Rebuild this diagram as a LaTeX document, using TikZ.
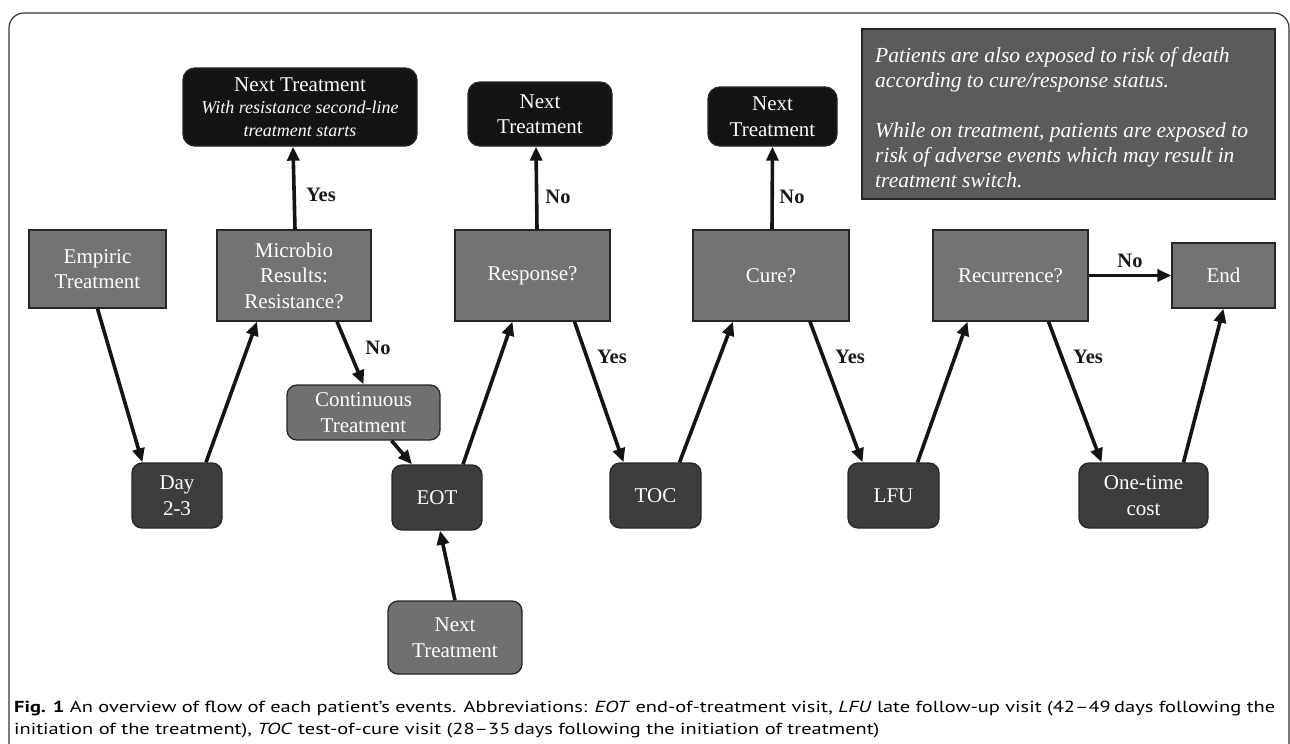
\documentclass[tikz,border=0pt]{standalone}
\usepackage{fontspec}
\usepackage{graphicx}
\setmainfont{Liberation Serif}
\newfontfamily\capfont{PT Sans}
\usetikzlibrary{arrows.meta,calc}
\definecolor{boxgray}{HTML}{737373}
\definecolor{softgray}{HTML}{707070}
\definecolor{darkbox}{HTML}{3D3D3D}
\definecolor{blackbox}{HTML}{141414}
\definecolor{infogray}{HTML}{5B5B5B}
\definecolor{captext}{HTML}{231F20}
\newsavebox\capboxA
\newsavebox\capboxB
\newdimen\capwidA
\AtBeginDocument{%
\sbox\capboxA{\capfont\fontsize{16}{19}\selectfont\textbf{Fig. 1} An overview of flow of each patient’s events. Abbreviations: \textit{EOT} end-of-treatment visit, \textit{LFU} late follow-up visit (42–49\,days following the}%
\sbox\capboxB{\capfont\fontsize{16}{19}\selectfont initiation of the treatment), \textit{TOC} test-of-cure visit (28–35\,days following the initiation of treatment)}%
\global\capwidA=\wd\capboxA
\pgfmathsetmacro\capscale{1261/\capwidA}%
\global\let\capscale\capscale
}
\begin{document}
\begin{tikzpicture}[x=1pt,y=-1pt,
  base/.style={draw=black!85, line width=1.3pt, text=white, inner sep=0pt, align=center,
    font=\fontsize{21}{25.5}\selectfont},
  sqbox/.style={base, fill=boxgray},
  softbox/.style={base, fill=softgray, rounded corners=10pt},
  darkstep/.style={base, fill=darkbox, rounded corners=10pt},
  blackstep/.style={base, fill=blackbox, rounded corners=12pt},
  conn/.style={line width=3.6pt, -{Triangle[length=14pt,width=12pt]}, black!92},
  lbl/.style={font=\fontsize{20.5}{22}\selectfont\bfseries, inner sep=0pt, text=black!90}
]
\useasboundingbox (0,0) rectangle (1290,744);
% outer frame
\draw[line width=1.2pt, black!80] (9,744) -- (9,28) arc[start angle=180,end angle=90,radius=15pt] -- (1274,13) arc[start angle=90,end angle=0,radius=15pt] -- (1289,744);

% boxes
\node[blackstep, minimum width=234pt, minimum height=78pt] (nt1) at (300,107)
  {Next Treatment\\[-3pt]{\fontsize{18}{22}\selectfont\itshape With resistance second-line}\\[-3pt]{\fontsize{18}{22}\selectfont\itshape treatment starts}};
\node[sqbox, minimum width=137pt, minimum height=78pt] (emp) at (97.5,269) {Empiric\\Treatment};
\node[sqbox, minimum width=154pt, minimum height=91pt] (mic) at (294,275.5) {Microbio\\Results:\\Resistance?};
\node[sqbox, minimum width=155pt, minimum height=91pt] (resp) at (532.5,275.5) {Response?};
\node[blackstep, minimum width=144pt, minimum height=64pt] (nt2) at (540,114) {Next\\Treatment};
\node[sqbox, minimum width=156pt, minimum height=91pt] (cure) at (771,275.5) {Cure?};
\node[blackstep, minimum width=129pt, minimum height=59pt] (nt3) at (772.5,116.5) {Next\\Treatment};
\node[sqbox, minimum width=155pt, minimum height=91pt] (rec) at (1010.5,275.5) {Recurrence?};
\node[sqbox, minimum width=103pt, minimum height=65pt] (end) at (1223.5,275.5) {End};
\node[softbox, minimum width=153pt, minimum height=55pt] (cont) at (363.5,412.5) {Continuous\\Treatment};
\node[darkstep, minimum width=90pt, minimum height=65pt] (day) at (177,495.5) {Day\\2-3};
\node[darkstep, minimum width=90pt, minimum height=65pt] (eot) at (437,497.5) {EOT};
\node[darkstep, minimum width=91pt, minimum height=65pt] (toc) at (655.5,495.5) {TOC};
\node[darkstep, minimum width=91pt, minimum height=65pt] (lfu) at (893.5,495.5) {LFU};
\node[darkstep, minimum width=129pt, minimum height=65pt] (one) at (1143.5,495.5) {One-time\\cost};
\node[softbox, minimum width=134pt, minimum height=73pt] (nt4) at (455,637.5) {Next\\Treatment};

% info box
\node[base, fill=infogray, minimum width=413pt, minimum height=170pt] (info) at (1068.5,114) {};
\node[anchor=west, inner sep=0pt, text=white, align=left, font=\fontsize{21.5}{25}\selectfont\itshape] (infotext) at (875,118)
  {Patients are also exposed to risk of death\\according to cure/response status.\\[25pt]While on treatment, patients are exposed to\\risk of adverse events which may result in\\treatment switch.};

% connectors
\draw[conn] (emp.south) -- ([xshift=11pt]day.north west);
\draw[conn] ([xshift=29pt]day.north) -- ([xshift=-37pt]mic.south);
\draw[conn] ([xshift=43pt]mic.south) -- (cont.north);
\draw[conn] ([xshift=28pt]cont.south) -- ([xshift=-25pt]eot.north);
\draw[conn] ([xshift=26pt]eot.north) -- ([xshift=-20pt]resp.south);
\draw[conn] ([xshift=42pt]resp.south) -- ([xshift=-32pt]toc.north);
\draw[conn] ([xshift=24pt]toc.north) -- ([xshift=-38pt]cure.south);
\draw[conn] ([xshift=39pt]cure.south) -- ([xshift=-31pt]lfu.north);
\draw[conn] ([xshift=24pt]lfu.north) -- ([xshift=-43pt]rec.south);
\draw[conn] ([xshift=38pt]rec.south) -- ([xshift=-42pt]one.north);
\draw[conn] ([xshift=40pt]one.north) -- (end.south);
\draw[conn] (rec.east) -- (end.west);
\draw[conn] ([xshift=1pt]mic.north) -- ([xshift=-7pt]nt1.south);
\draw[conn] ([xshift=4.5pt]resp.north) -- ([xshift=-4pt]nt2.south);
\draw[conn] ([xshift=1pt]cure.north) -- (nt3.south);
\draw[conn] (nt4.north) -- ([xshift=3pt]eot.south);

% labels
\node[lbl] (l1) at (321,195) {Yes};
\node[lbl] (l2) at (558,197) {No};
\node[lbl] (l3) at (792,197) {No};
\node[lbl] (l4) at (378,348) {No};
\node[lbl] (l5) at (612,357) {Yes};
\node[lbl] (l6) at (850,357) {Yes};
\node[lbl] (l7) at (1130,261) {No};
\node[lbl] (l8) at (1088,357) {Yes};

% caption
\node[anchor=base west, inner sep=0pt, text=captext] (cap1) at (14,712) {\scalebox{\capscale}[1]{\usebox\capboxA}};
\node[anchor=base west, inner sep=0pt, text=captext] (cap2) at (14,734) {\scalebox{\capscale}[1]{\usebox\capboxB}};
\end{tikzpicture}
\end{document}
